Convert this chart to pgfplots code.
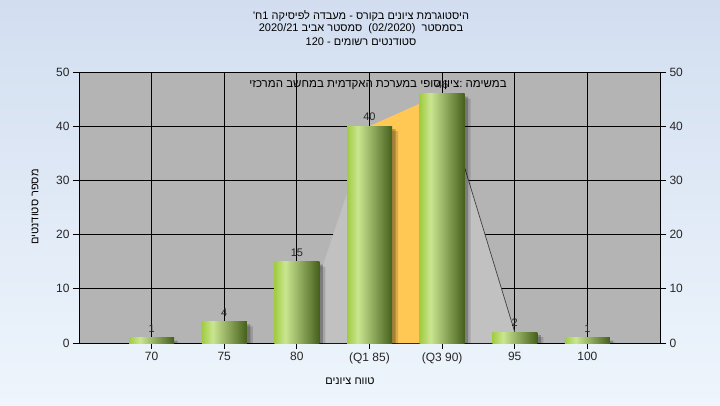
\documentclass[border=0pt]{standalone}
\usepackage{fontspec}
\setmainfont{Liberation Sans}
\newfontfamily\heb[Script=Hebrew]{Liberation Sans}
\usepackage{pgfplots}
\pgfplotsset{compat=1.18}
\usetikzlibrary{backgrounds}
\TeXXeTstate=1

\definecolor{bgtop}{RGB}{210,222,240}
\definecolor{bgbot}{RGB}{238,245,252}
\definecolor{plotgray}{RGB}{180,180,180}
\definecolor{lightpoly}{RGB}{193,193,193}
\definecolor{orng}{RGB}{255,200,85}
\definecolor{g1}{RGB}{160,204,64}
\definecolor{g2}{RGB}{202,230,145}
\definecolor{g3}{RGB}{70,96,28}
\pgfdeclarehorizontalshading{barshade}{100bp}{color(0bp)=(g1); color(25bp)=(g1); color(37bp)=(g2); color(75bp)=(g3); color(100bp)=(g3)}

\pgfplotstableread{
x y
0 1
1 4
2 15
3 40
4 46
5 2
6 1
}\grades

\pgfplotsset{gbar/.style={ybar, bar width=45pt, bar shift=0pt, draw=none, shade, shading=barshade,
  nodes near coords,
  every node near coord/.append style={font=\fontsize{11}{13}\selectfont, text=black!85, anchor=south, inner sep=0pt, yshift=5pt}}}

\begin{document}
\begin{tikzpicture}
\begin{axis}[
  scale only axis, width=581pt, height=271pt,
  xmin=-1, xmax=7, ymin=0, ymax=50,
  xtick={0,...,6}, xticklabels={70,75,80,(Q1 85),(Q3 90),95,100},
  ytick={0,10,...,50},
  tick align=outside, major tick length=6pt,
  xtick pos=bottom, ytick pos=left,
  grid=major, major grid style={black, line width=0.8pt},
  axis line style={black, line width=0.8pt},
  tick style={black, line width=0.8pt},
  axis background/.style={fill=plotgray},
  ticklabel style={font=\fontsize{12}{14}\selectfont, text=black!85},
  /pgf/number format/assume math mode=true,
]
\addplot[fill=lightpoly, draw=none] coordinates {(2,0) (3,40) (4,46) (5,2) (5,0)} \closedcycle;
\addplot[fill=orng, draw=none] coordinates {(3,40) (4,46)} \closedcycle;
\addplot[draw=black!75, line width=0.7pt] coordinates {(4,46) (5,2)};
\addplot[ybar, bar width=45pt, bar shift=6pt, yshift=-5pt, fill=black, opacity=0.14, draw=none] table[x=x,y=y] {\grades};
\addplot[ybar, bar width=45pt, bar shift=3.5pt, yshift=-3pt, fill=black, opacity=0.24, draw=none] table[x=x,y=y] {\grades};
\addplot[gbar] coordinates {(0,1)};
\addplot[gbar] coordinates {(1,4)};
\addplot[gbar] coordinates {(2,15)};
\addplot[gbar] coordinates {(3,40)};
\addplot[gbar] coordinates {(4,46)};
\addplot[gbar] coordinates {(5,2)};
\addplot[gbar] coordinates {(6,1)};
\end{axis}
\begin{axis}[
  scale only axis, width=581pt, height=271pt,
  xmin=-1, xmax=7, ymin=0, ymax=50,
  xtick=\empty, ytick={0,10,...,50},
  ytick pos=right, yticklabel pos=right,
  tick align=outside, major tick length=6pt,
  axis line style={draw=none},
  tick style={black, line width=0.8pt},
  ticklabel style={font=\fontsize{12}{14}\selectfont, text=black!85},
  /pgf/number format/assume math mode=true,
]
\addplot[draw=none] coordinates {(0,0)};
\end{axis}

\node[font=\heb\fontsize{11}{13}\selectfont] at (282pt,327pt) {\beginR היסטוגרמת ציונים בקורס - מעבדה לפיסיקה \mbox{1}\mbox{ח}\mbox{'}\endR};
\node[font=\heb\fontsize{11}{13}\selectfont] at (282pt,314pt) {\beginR בסמסטר\ \ (02/2020)\ \ סמסטר אביב 2020/21\endR};
\node[font=\heb\fontsize{11}{13}\selectfont] at (282pt,301pt) {\beginR סטודנטים רשומים - 120\endR};
\node[font=\heb\fontsize{11.5}{13}\selectfont] at (299pt,258pt) {\beginR במשימה :ציון סופי במערכת האקדמית במחשב המרכזי\endR};
\node[font=\heb\fontsize{11}{13}\selectfont] at (271pt,-38pt) {\beginR טווח ציונים\endR};
\node[font=\heb\fontsize{11}{13}\selectfont, rotate=90] at (-44pt,136pt) {\beginR מספר סטודנטים\endR};

\begin{pgfonlayer}{background}
\shade[top color=bgtop, bottom color=bgbot] (-79pt,-62pt) rectangle (641pt,343pt);
\end{pgfonlayer}
\pgfresetboundingbox
\useasboundingbox (-79pt,-62pt) rectangle (641pt,343pt);
\end{tikzpicture}
\end{document}
